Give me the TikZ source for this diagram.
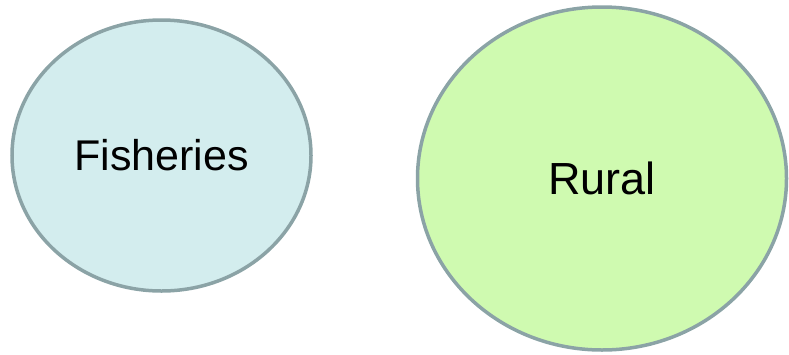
\documentclass[tikz,border=0pt]{standalone}
\usepackage{fontspec}
\setmainfont{Liberation Sans}
\usetikzlibrary{shapes.geometric}
\definecolor{edgegray}{HTML}{8BA3A6}
\definecolor{fishfill}{HTML}{D3EDEE}
\definecolor{ruralfill}{HTML}{CFFAB0}
\tikzset{
  blob/.style={ellipse, draw=edgegray, line width=3.5pt, inner sep=0pt, text=black},
}
\begin{document}
\begin{tikzpicture}[x=1pt,y=-1pt]
\useasboundingbox (0,0) rectangle (789,354);
\node[blob, fill=fishfill, minimum width=299pt, minimum height=271pt,
      font=\fontsize{43pt}{48pt}\selectfont] (fish) at (161.5,155.5) {Fisheries};
\node[blob, fill=ruralfill, minimum width=369pt, minimum height=343pt,
      font=\fontsize{45pt}{50pt}\selectfont] (rural) at (602,178.5) {Rural};
\end{tikzpicture}
\end{document}
